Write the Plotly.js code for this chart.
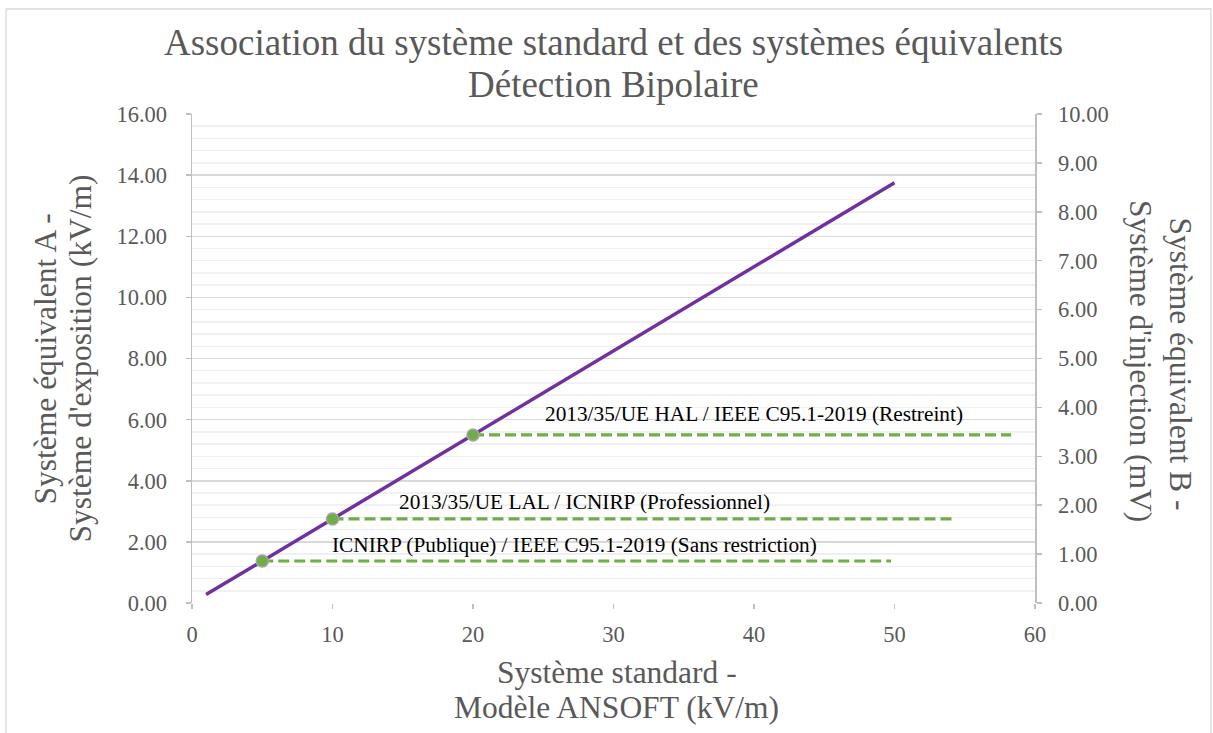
<!DOCTYPE html>
<html><head><meta charset="utf-8">
<script src="https://cdn.plot.ly/plotly-3.0.1.min.js"></script>
<style>html,body{margin:0;padding:0;background:#fff}</style>
</head><body><div id="chart" style="width:1213px;height:733px"></div>
<script>
// Main line: standard system (kV/m) vs equivalent A (kV/m)
const lineX = [1, 50];
const lineY = [0.275, 13.75];
// Threshold points and dashed levels
const pointX = [5, 10, 20];
const pointY = [1.375, 2.75, 5.5];
const dashEndX = [49.75, 54.1, 58.3];
const labels = [
  "ICNIRP (Publique) / IEEE C95.1-2019 (Sans restriction)",
  "2013/35/UE LAL / ICNIRP (Professionnel)",
  "2013/35/UE HAL / IEEE C95.1-2019 (Restreint)"
];
const labelX = [27.22, 27.97, 40.0];
const labelY = [1.9, 3.3, 6.18];
const titleLines = ["Association du système standard et des systèmes équivalents", "Détection Bipolaire"];
const xTitleLines = ["Système standard -", "Modèle ANSOFT (kV/m)"];
const yTitleLines = ["Système équivalent A -", "Système d'exposition (kV/m)"];
const y2TitleLines = ["Système équivalent B -", "Système d'injection (mV)"];

const serif = "'Liberation Serif', 'Times New Roman', serif";
const gray = "#595959";

const traces = [];
for (let i = 0; i < pointX.length; i++) {
  traces.push({
    x: [pointX[i], dashEndX[i]], y: [pointY[i], pointY[i]],
    mode: "lines", line: {color: "#70ad47", width: 3.2, dash: "11px,5px"},
    hoverinfo: "skip", showlegend: false
  });
}
traces.push({
  x: lineX, y: lineY, mode: "lines",
  line: {color: "#7030a0", width: 3.5}, showlegend: false
});
traces.push({
  x: pointX, y: pointY, mode: "markers",
  marker: {color: "#70ad47", size: 12, line: {color: "#a5a5a5", width: 1.5}},
  showlegend: false
});
traces.push({
  x: [0], y: [0], yaxis: "y2", mode: "markers",
  marker: {opacity: 0}, hoverinfo: "skip", showlegend: false
});

const annotations = labels.map((t, i) => ({
  x: labelX[i], y: labelY[i], xref: "x", yref: "y", text: t, showarrow: false,
  font: {family: serif, size: 21.3, color: "#000"}
}));
function ann(text, x, y, size, angle) {
  annotations.push({
    xref: "paper", yref: "paper", x: x, y: y, xanchor: "center", yanchor: "middle",
    text: text, textangle: angle || 0, showarrow: false,
    font: {family: serif, size: size, color: gray}
  });
}
ann(titleLines[0], 0.5, 1.1462, 37, 0);
ann(titleLines[1], 0.5, 1.0613, 37, 0);
ann(xTitleLines[0], 0.504, -0.1431, 31.5, 0);
ann(xTitleLines[1], 0.504, -0.2147, 31.5, 0);
ann(yTitleLines[0], -0.1732, 0.50, 31.5, -90);
ann(yTitleLines[1], -0.1317, 0.50, 31.5, -90);
ann(y2TitleLines[0], 1.1732, 0.49, 31.5, 90);
ann(y2TitleLines[1], 1.1246, 0.495, 31.5, 90);

const tickFont = {family: serif, size: 22.5, color: gray};
const layout = {
  width: 1213, height: 733,
  margin: {l: 192, r: 178, t: 114, b: 130},
  paper_bgcolor: "#fff", plot_bgcolor: "#fff",
  font: {family: serif, color: gray},
  xaxis: {
    range: [0, 60], dtick: 10, tick0: 0, showgrid: false, zeroline: false,
    ticks: "outside", ticklen: 5, tickcolor: "#bfbfbf", tickwidth: 1.5,
    showline: false, tickfont: tickFont, ticklabelstandoff: 6
  },
  yaxis: {
    range: [0, 16], dtick: 2, tick0: 0, tickformat: ".2f",
    showgrid: true, gridcolor: "#d9d9d9", gridwidth: 1.5,
    minor: {dtick: 0.4, showgrid: true, gridcolor: "#f0f0f0", gridwidth: 1.5},
    zeroline: false, showline: true, linecolor: "#bfbfbf", linewidth: 1.5,
    ticks: "outside", ticklen: 5, tickcolor: "#bfbfbf", tickwidth: 1.5,
    tickfont: tickFont, ticklabelstandoff: 14
  },
  yaxis2: {
    range: [0, 10], dtick: 1, tick0: 0, tickformat: ".2f",
    overlaying: "y", side: "right", showgrid: false, zeroline: false,
    showline: true, linecolor: "#bfbfbf", linewidth: 1.5,
    ticks: "outside", ticklen: 5, tickcolor: "#bfbfbf", tickwidth: 1.5,
    tickfont: tickFont, ticklabelstandoff: 12
  },
  annotations: annotations,
  shapes: [{
    type: "rect", xref: "paper", yref: "paper",
    x0: -0.2206, x1: 1.2088, y0: -0.3, y1: 1.2147,
    line: {color: "#d9d9d9", width: 1.3}, fillcolor: "rgba(0,0,0,0)", layer: "below"
  }]
};

Plotly.newPlot("chart", traces, layout, {displayModeBar: false, staticPlot: true});
</script></body></html>
